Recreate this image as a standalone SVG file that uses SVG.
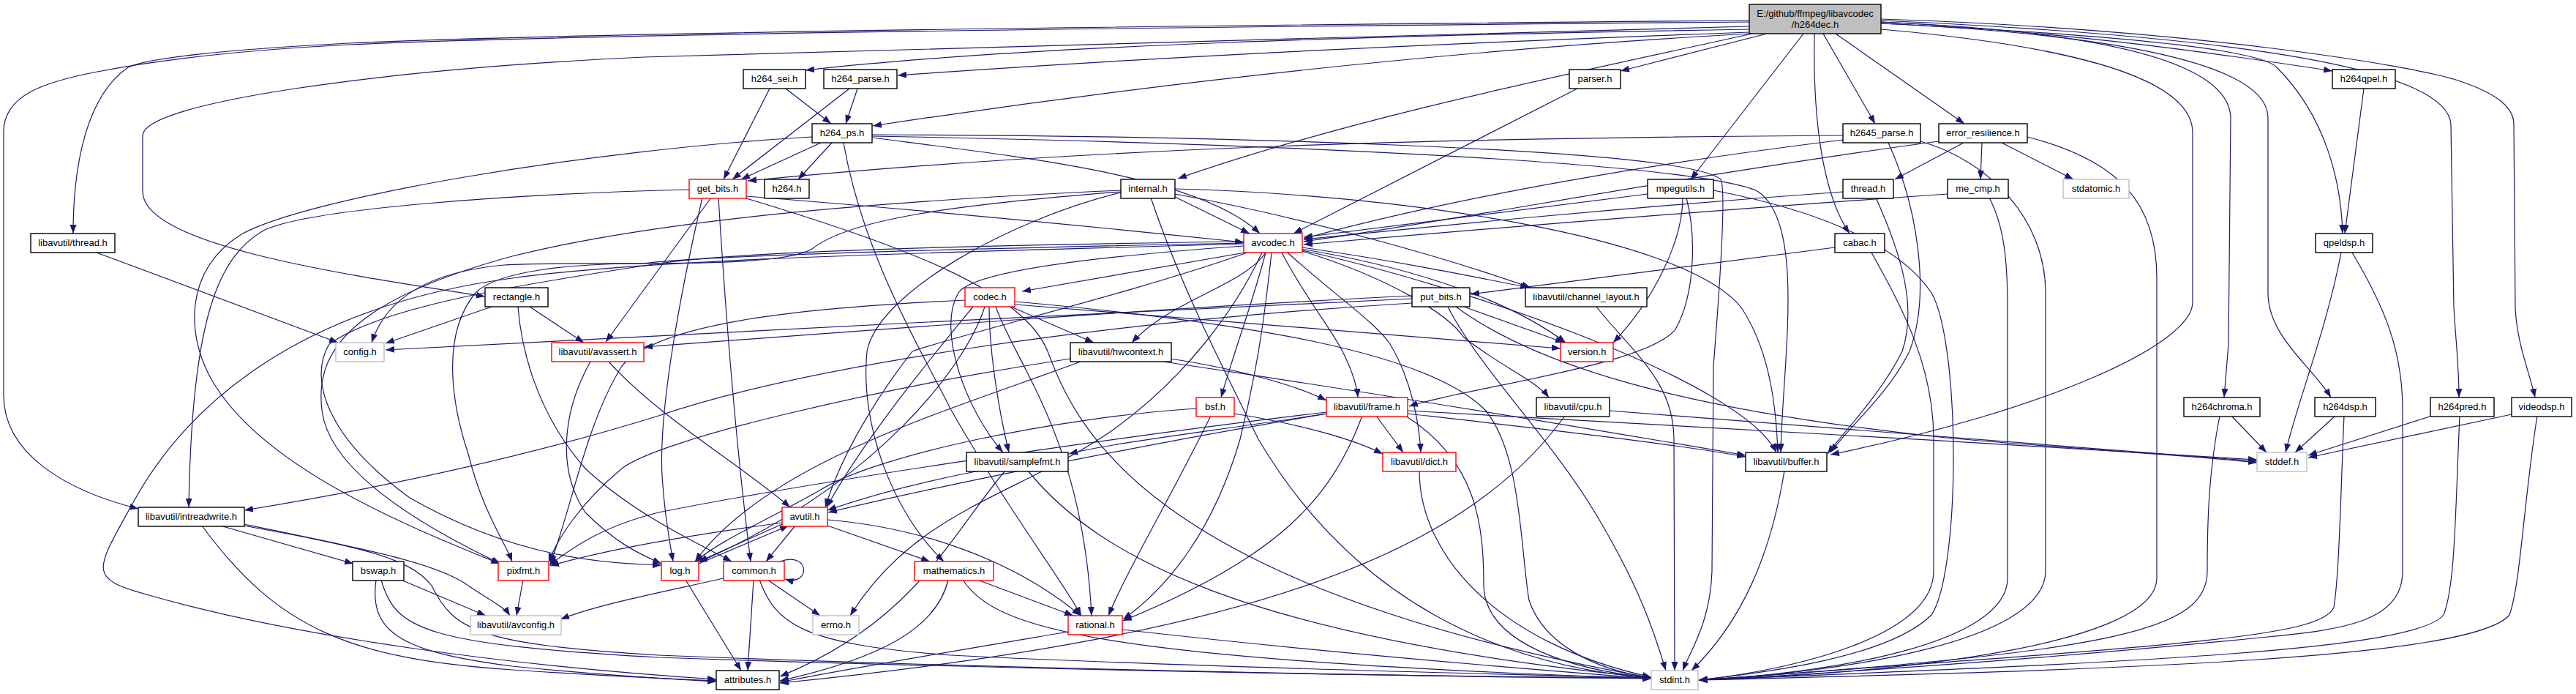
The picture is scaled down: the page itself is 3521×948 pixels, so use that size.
<svg xmlns="http://www.w3.org/2000/svg" width="3521" height="948" viewBox="0 0 3521 948">
<defs>
<marker id="a" viewBox="0 0 12 9" refX="12" refY="4.5" markerWidth="12" markerHeight="9" markerUnits="userSpaceOnUse" orient="auto"><path d="M0,0 L12,4.5 L0,9 z" fill="#191970"/></marker>
<style>
.e{fill:none;stroke:#191970;stroke-width:1.2;marker-end:url(#a)}
.nb{fill:#fff;stroke:#000;stroke-width:1.4}
.nr{fill:#fff;stroke:#ff0000;stroke-width:1.4}
.ng{fill:#fff;stroke:#bfbfbf;stroke-width:1.4}
.nroot{fill:#bfbfbf;stroke:#000;stroke-width:1.4}
text{font-family:"Liberation Sans",Arial,Helvetica,sans-serif;font-size:13px;fill:#000;text-anchor:middle}
</style>
</defs>
<rect width="3521" height="948" fill="#fff"/>
<g id="edges">
<!-- root -->
<path class="e" d="M2391,30 C1700,36 800,46 477,61 C300,70 200,85 133,98 C60,112 5,130 5,180 L5,540 C5,620 90,670 189,695"/>
<path class="e" d="M2391,28 C1700,34 800,44 477,59 C300,68 200,80 175,92 C120,130 100,220 100,319"/>
<path class="e" d="M2391,36 C1900,50 1100,70 880,78 C520,95 197,140 195,185 L195,262 C195,335 470,375 663,405"/>
<path class="e" d="M2391,40 C1900,48 1400,62 1101,96"/>
<path class="e" d="M2391,44 C2000,58 1600,76 1227,103"/>
<path class="e" d="M2391,46 C2100,62 1700,95 1193,172"/>
<path class="e" d="M2395,46 C2150,100 1850,160 1610,244"/>
<path class="e" d="M2415,46 L2215,97"/>
<path class="e" d="M2465,46 L2311,245"/>
<path class="e" d="M2492,46 L2563,169"/>
<path class="e" d="M2480,46 C2478,150 2488,260 2528,319"/>
<path class="e" d="M2509,46 L2685,169"/>
<path class="e" d="M2571,30 C2800,42 3000,68 3188,97"/>
<path class="e" d="M2571,32 C2900,48 3090,68 3112,92 C3180,160 3200,250 3202,319"/>
<path class="e" d="M2571,30 C2800,40 3045,70 3049,160 L3046,470 L3040,543"/>
<path class="e" d="M2571,32 C2850,45 3098,80 3100,160 L3100,400 C3100,460 3160,500 3186,543"/>
<path class="e" d="M2571,28 C2950,45 3345,80 3350,170 L3354,420 C3357,470 3361,500 3361,543"/>
<path class="e" d="M2571,26 C3000,40 3300,90 3360,110 C3420,130 3436,150 3436,170 L3438,420 C3440,470 3458,510 3465,543"/>
<path class="e" d="M2571,40 C2800,60 2995,100 2997,180 L2997,413 C2997,470 2800,560 2502,621"/>
<!-- libavutil/thread.h, rectangle.h -->
<path class="e" d="M132,345 L462,468"/>
<path class="e" d="M672,419 L527,469"/>
<path class="e" d="M724,419 L798,468"/>
<path class="e" d="M708,419 C712,470 730,560 800,640 C870,705 960,745 1000,767"/>
<!-- h264_sei, h264_parse -->
<path class="e" d="M1052,121 L989,245"/>
<path class="e" d="M1074,121 L1136,169"/>
<path class="e" d="M1161,121 L1001,245"/>
<path class="e" d="M1172,121 L1156,169"/>
<!-- h264_ps -->
<path class="e" d="M1122,195 L1013,245"/>
<path class="e" d="M1137,195 L1091,245"/>
<path class="e" d="M1192,188 C1400,215 1640,240 1722,319"/>
<path class="e" d="M1192,184 C1600,185 2300,200 2352,245 C2360,260 2350,400 2342,500 L2340,780 C2338,850 2310,890 2300,916"/>
<path class="e" d="M1192,186 C1700,195 2300,220 2400,260 C2470,300 2436,500 2434,618"/>
<path class="e" d="M1110,187 C800,205 420,270 330,320 C250,370 255,460 290,520 C360,640 560,720 683,770"/>
<path class="e" d="M1153,195 C1180,350 1260,480 1300,560 C1380,700 1450,790 1478,841"/>
<!-- get_bits -->
<path class="e" d="M1020,268 C1300,290 1500,310 1700,331"/>
<path class="e" d="M982,270 C990,400 1005,600 1026,767"/>
<path class="e" d="M942,259 C700,265 420,285 360,315 C300,350 262,430 258,693"/>
<path class="e" d="M972,270 L828,467"/>
<path class="e" d="M960,270 C930,400 900,560 905,650 C908,700 915,740 920,767"/>
<path class="e" d="M1020,271 C1250,340 1400,400 1432,480 C1470,580 1560,800 2257,926"/>
<!-- internal -->
<path class="e" d="M1604,268 L1708,319"/>
<path class="e" d="M1606,265 C1800,300 2000,360 2092,393"/>
<path class="e" d="M1606,258 C1900,265 2300,320 2380,420 C2420,480 2428,560 2430,618"/>
<path class="e" d="M1573,270 C1610,380 1660,480 1720,600 C1850,820 2050,910 2257,926"/>
<path class="e" d="M1532,263 C1380,300 1200,400 1185,480 C1175,580 1220,700 1290,767"/>
<path class="e" d="M1532,262 C1300,280 1160,300 1110,340 C1060,370 800,355 689,362 C600,370 530,400 508,468"/>
<path class="e" d="M1532,260 C1200,275 900,300 700,350 C480,410 430,480 440,560 C450,650 600,730 684,770"/>
<!-- avcodec -->
<path class="e" d="M1725,345 C1690,420 1620,520 1510,595 C1380,680 1250,700 1162,841"/>
<path class="e" d="M1700,336 C1500,350 1330,370 1310,400 C1280,450 1320,560 1371,618"/>
<path class="e" d="M1700,333 C1300,345 900,352 700,380 C400,420 250,560 180,690 C130,780 120,790 200,812 C400,870 700,910 979,928"/>
<path class="e" d="M1705,345 C1550,400 1300,460 1247,480 C1200,540 1150,620 1128,693"/>
<path class="e" d="M1780,342 C2000,390 2380,520 2428,618"/>
<path class="e" d="M1780,343 C1900,380 1980,430 2000,460 C2050,500 2100,520 2117,543"/>
<path class="e" d="M1780,338 C1900,355 2000,375 2090,393"/>
<path class="e" d="M1760,345 C1820,400 1880,440 1900,470 C1930,520 1940,580 1942,618"/>
<path class="e" d="M1752,345 C1780,400 1820,450 1835,480 C1850,510 1855,530 1856,543"/>
<path class="e" d="M1730,345 C1700,390 1600,410 1547,468"/>
<path class="e" d="M1700,330 C1300,335 1000,345 900,360 C700,390 520,420 450,470 C420,520 450,600 560,680 C700,760 820,770 904,772"/>
<path class="e" d="M1700,332 C1300,340 950,350 880,360 C780,360 680,370 650,400 C600,460 620,560 640,620 C660,700 690,740 700,767"/>
<path class="e" d="M1738,345 C1730,420 1720,500 1695,600 C1660,720 1600,800 1535,846"/>
<path class="e" d="M1730,345 C1710,420 1690,470 1669,543"/>
<path class="e" d="M1702,345 L1397,398"/>
<path class="e" d="M1778,340 C1900,360 2050,400 2140,468"/>
<!-- codec -->
<path class="e" d="M1382,419 L1495,468"/>
<path class="e" d="M1330,419 C1280,480 1180,600 1130,693"/>
<path class="e" d="M1346,419 C1320,500 1200,660 955,768"/>
<path class="e" d="M1319,410 C1100,420 900,440 850,500 C800,580 780,700 752,770"/>
<path class="e" d="M1361,419 C1390,500 1480,600 1492,841"/>
<path class="e" d="M1352,419 C1352,480 1365,560 1379,618"/>
<path class="e" d="M1388,412 C1700,440 1950,480 2030,560 C2080,620 2078,750 2090,820 C2110,880 2180,915 2257,926"/>
<path class="e" d="M1388,416 C1700,440 1950,460 2133,476"/>
<!-- hwcontext -->
<path class="e" d="M1590,494 C1900,540 2200,590 2386,622"/>
<path class="e" d="M1600,490 C1700,505 1780,530 1813,547"/>
<path class="e" d="M1477,494 C1300,560 1050,630 950,767"/>
<path class="e" d="M1463,490 C1200,530 900,600 850,640 C790,690 760,740 750,768"/>
<!-- bsf -->
<path class="e" d="M1687,565 C1780,580 1850,600 1890,620"/>
<path class="e" d="M1635,558 C1450,570 1200,620 1120,670 C1050,710 980,740 950,768"/>
<path class="e" d="M1655,568 C1600,680 1540,780 1515,841"/>
<!-- samplefmt -->
<path class="e" d="M1339,643 C1250,660 1180,680 1131,697"/>
<path class="e" d="M1374,643 C1300,730 1250,850 1066,924"/>
<path class="e" d="M1405,643 C1500,760 1700,870 2257,926"/>
<!-- frame -->
<path class="e" d="M1924,561 C2300,580 2700,605 3085,628"/>
<path class="e" d="M1921,568 C2020,630 2028,720 2028,800 C2030,880 2150,915 2257,926"/>
<path class="e" d="M1815,565 C1600,600 1300,660 1132,700"/>
<path class="e" d="M1924,565 C2100,585 2280,605 2386,624"/>
<path class="e" d="M1881,568 L1918,618"/>
<path class="e" d="M1862,568 C1820,680 1750,760 1535,848"/>
<path class="e" d="M1813,565 C1650,590 1520,605 1461,620"/>
<path class="e" d="M1813,563 C1500,600 1100,660 900,700 C820,720 780,750 751,772"/>
<!-- avutil -->
<path class="e" d="M1069,716 L955,767"/>
<path class="e" d="M1087,718 L1047,767"/>
<path class="e" d="M1131,718 L1271,767"/>
<path class="e" d="M1131,710 C1250,720 1380,760 1477,841"/>
<path class="e" d="M1069,714 C950,730 830,750 752,773"/>
<!-- log -->
<path class="e" d="M955,770 L1078,718"/>
<path class="e" d="M937,792 L1013,916"/>
<!-- common -->
<path class="e" d="M1066,767 C1108,752 1108,802 1073,791"/>
<path class="e" d="M1049,792 L1121,841"/>
<path class="e" d="M1030,792 L1022,916"/>
<path class="e" d="M1038,792 C1060,850 1090,880 1300,895 C1600,910 2000,920 2257,926"/>
<path class="e" d="M989,790 C900,810 820,825 766,846"/>
<!-- mathematics -->
<path class="e" d="M1336,792 L1467,841"/>
<path class="e" d="M1296,792 C1280,860 1200,900 1066,930"/>
<path class="e" d="M1316,792 C1360,860 1500,900 2257,927"/>
<!-- rational -->
<path class="e" d="M1460,863 C1300,890 1150,915 1066,932"/>
<path class="e" d="M1534,860 C1800,890 2100,915 2257,927"/>
<!-- avassert -->
<path class="e" d="M807,494 C770,560 760,640 800,700 C840,740 870,755 904,770"/>
<path class="e" d="M832,494 C900,570 1020,640 1080,693"/>
<!-- intreadwrite -->
<path class="e" d="M301,718 L483,770"/>
<path class="e" d="M333,716 C500,750 600,770 640,800 C670,820 690,830 697,841"/>
<path class="e" d="M333,718 C480,745 560,760 590,800 C620,860 650,880 900,895 C1400,915 2000,925 2257,926"/>
<path class="e" d="M276,718 C380,860 480,900 700,915 C850,925 930,928 979,930"/>
<!-- bswap, pixfmt -->
<path class="e" d="M548,792 L664,841"/>
<path class="e" d="M521,792 C540,860 580,880 900,898 C1400,915 2000,925 2257,927"/>
<path class="e" d="M514,792 C505,860 540,890 700,910 C850,925 930,928 979,931"/>
<path class="e" d="M715,792 L706,841"/>
<!-- dict, buffer, cpu, channel_layout -->
<path class="e" d="M1940,643 C1940,760 2050,880 2257,925"/>
<path class="e" d="M2439,643 C2420,760 2380,850 2312,916"/>
<path class="e" d="M2139,568 C2000,760 1700,870 1066,933"/>
<path class="e" d="M2200,561 C2600,590 2900,615 3085,630"/>
<path class="e" d="M2182,419 C2230,480 2288,520 2288,600 L2289,916"/>
<!-- parser -->
<path class="e" d="M2156,121 L1768,319"/>
<!-- h2645_parse -->
<path class="e" d="M2519,185 C2000,188 1500,200 1022,247"/>
<path class="e" d="M2519,191 C2200,230 1950,280 1782,326"/>
<path class="e" d="M2581,195 C2620,280 2640,400 2610,480 C2580,540 2530,580 2502,618"/>
<path class="e" d="M2625,193 C2720,220 2796,300 2796,400 L2796,780 C2796,880 2500,920 2322,929"/>
<!-- error_resilience -->
<path class="e" d="M2650,193 C2300,240 2000,300 1782,330"/>
<path class="e" d="M2684,195 L2590,245"/>
<path class="e" d="M2709,195 L2707,245"/>
<path class="e" d="M2736,195 L2834,245"/>
<path class="e" d="M2771,187 C2900,220 2948,280 2948,380 L2948,790 C2948,880 2600,920 2322,929"/>
<!-- me_cmp -->
<path class="e" d="M2662,265 C2300,290 2000,315 1782,334"/>
<path class="e" d="M2719,270 C2740,310 2744,360 2744,420 L2744,790 C2744,880 2500,920 2322,929"/>
<!-- mpegutils -->
<path class="e" d="M2252,265 L1782,324"/>
<path class="e" d="M2300,270 C2300,330 2260,410 2205,468"/>
<path class="e" d="M2305,270 C2318,320 2318,400 2290,450 C2250,500 2000,530 1926,555"/>
<path class="e" d="M2342,260 C2500,290 2600,340 2640,400 C2680,470 2680,780 2640,840 C2580,900 2400,920 2322,929"/>
<!-- thread -->
<path class="e" d="M2519,262 C2200,285 1950,310 1782,327"/>
<path class="e" d="M2564,270 C2600,350 2620,420 2600,480 C2570,540 2520,590 2498,620"/>
<!-- cabac -->
<path class="e" d="M2508,338 L2010,402"/>
<path class="e" d="M2558,345 C2600,420 2643,500 2643,600 L2643,780 C2643,870 2450,915 2322,929"/>
<!-- put_bits -->
<path class="e" d="M1930,404 C1600,420 1200,450 880,474"/>
<path class="e" d="M1930,408 C1500,430 900,455 527,478"/>
<path class="e" d="M1930,414 C1500,440 1100,500 900,568 C700,630 500,670 334,697"/>
<path class="e" d="M2001,419 L2138,468"/>
<path class="e" d="M1979,419 C2020,500 2120,600 2180,700 C2240,800 2260,860 2277,916"/>
<path class="e" d="M1990,419 C2100,500 2300,560 2660,598 C2850,615 3000,622 3085,632"/>
<!-- qpel / dsp -->
<path class="e" d="M3231,121 L3205,319"/>
<path class="e" d="M3200,345 C3180,450 3140,550 3124,618"/>
<path class="e" d="M3215,345 C3260,420 3284,480 3284,560 L3284,780 C3284,850 3200,860 3100,870 C2800,900 2500,920 2322,929"/>
<path class="e" d="M3050,568 L3098,618"/>
<path class="e" d="M3034,568 C3020,640 3017,700 3017,780 C3017,860 2900,890 2322,929"/>
<path class="e" d="M3192,568 L3137,618"/>
<path class="e" d="M3204,568 C3200,650 3198,780 3190,830 C3170,870 3000,880 2322,929"/>
<path class="e" d="M3324,568 L3155,622"/>
<path class="e" d="M3362,568 C3356,700 3356,800 3340,840 C3300,890 2900,905 2322,929"/>
<path class="e" d="M3433,566 L3155,625"/>
<path class="e" d="M3468,568 C3450,680 3445,800 3430,840 C3380,900 2900,915 2322,929"/>
</g>
<g id="n_root"><rect class="nroot" x="2391" y="6" width="180" height="40"/><text x="2481" y="23">E:/github/ffmpeg/libavcodec</text><text x="2481" y="38">/h264dec.h</text></g>
<g id="n_lthread"><rect class="nb" x="42" y="319" width="115" height="26"/><text x="99.5" y="336">libavutil/thread.h</text></g>
<g id="n_rectangle"><rect class="nb" x="663" y="393" width="86" height="26"/><text x="706" y="410">rectangle.h</text></g>
<g id="n_config"><rect class="ng" x="459" y="468" width="66" height="26"/><text x="492" y="485">config.h</text></g>
<g id="n_avassert"><rect class="nr" x="754" y="468" width="126" height="26"/><text x="817" y="485">libavutil/avassert.h</text></g>
<g id="n_sei"><rect class="nb" x="1016" y="95" width="85" height="26"/><text x="1058.5" y="112">h264_sei.h</text></g>
<g id="n_parse"><rect class="nb" x="1126" y="95" width="100" height="26"/><text x="1176" y="112">h264_parse.h</text></g>
<g id="n_ps"><rect class="nb" x="1110" y="169" width="82" height="26"/><text x="1151" y="186">h264_ps.h</text></g>
<g id="n_getbits"><rect class="nr" x="942" y="245" width="78" height="26"/><text x="981" y="262">get_bits.h</text></g>
<g id="n_h264"><rect class="nb" x="1045" y="245" width="61" height="26"/><text x="1075.5" y="262">h264.h</text></g>
<g id="n_internal"><rect class="nb" x="1532" y="245" width="74" height="26"/><text x="1569" y="262">internal.h</text></g>
<g id="n_avcodec"><rect class="nr" x="1700" y="319" width="80" height="26"/><text x="1740" y="336">avcodec.h</text></g>
<g id="n_codec"><rect class="nr" x="1319" y="393" width="68" height="26"/><text x="1353" y="410">codec.h</text></g>
<g id="n_hwcontext"><rect class="nb" x="1463" y="468" width="138" height="26"/><text x="1532" y="485">libavutil/hwcontext.h</text></g>
<g id="n_parser"><rect class="nb" x="2145" y="95" width="70" height="26"/><text x="2180" y="112">parser.h</text></g>
<g id="n_h2645"><rect class="nb" x="2519" y="169" width="106" height="26"/><text x="2572" y="186">h2645_parse.h</text></g>
<g id="n_er"><rect class="nb" x="2650" y="169" width="121" height="26"/><text x="2710.5" y="186">error_resilience.h</text></g>
<g id="n_mpegutils"><rect class="nb" x="2252" y="245" width="90" height="26"/><text x="2297" y="262">mpegutils.h</text></g>
<g id="n_thread"><rect class="nb" x="2519" y="245" width="69" height="26"/><text x="2553.5" y="262">thread.h</text></g>
<g id="n_cabac"><rect class="nb" x="2508" y="319" width="68" height="26"/><text x="2542" y="336">cabac.h</text></g>
<g id="n_putbits"><rect class="nb" x="1930" y="393" width="79" height="26"/><text x="1969.5" y="410">put_bits.h</text></g>
<g id="n_chlayout"><rect class="nb" x="2085" y="393" width="166" height="26"/><text x="2168" y="410">libavutil/channel_layout.h</text></g>
<g id="n_version"><rect class="nr" x="2133" y="468" width="72" height="26"/><text x="2169" y="485">version.h</text></g>
<g id="n_mecmp"><rect class="nb" x="2662" y="245" width="83" height="26"/><text x="2703.5" y="262">me_cmp.h</text></g>
<g id="n_stdatomic"><rect class="ng" x="2820" y="245" width="90" height="26"/><text x="2865" y="262">stdatomic.h</text></g>
<g id="n_h264qpel"><rect class="nb" x="3188" y="95" width="86" height="26"/><text x="3231" y="112">h264qpel.h</text></g>
<g id="n_qpeldsp"><rect class="nb" x="3165" y="319" width="78" height="26"/><text x="3204" y="336">qpeldsp.h</text></g>
<g id="n_intreadwrite"><rect class="nb" x="189" y="693" width="145" height="26"/><text x="261.5" y="710">libavutil/intreadwrite.h</text></g>
<g id="n_bswap"><rect class="nb" x="482" y="767" width="70" height="26"/><text x="517" y="784">bswap.h</text></g>
<g id="n_pixfmt"><rect class="nr" x="681" y="767" width="69" height="26"/><text x="715.5" y="784">pixfmt.h</text></g>
<g id="n_avconfig"><rect class="ng" x="643" y="841" width="124" height="26"/><text x="705" y="858">libavutil/avconfig.h</text></g>
<g id="n_bsf"><rect class="nr" x="1635" y="543" width="52" height="26"/><text x="1661" y="560">bsf.h</text></g>
<g id="n_samplefmt"><rect class="nb" x="1321" y="618" width="139" height="26"/><text x="1390.5" y="635">libavutil/samplefmt.h</text></g>
<g id="n_avutil"><rect class="nr" x="1069" y="693" width="62" height="26"/><text x="1100" y="710">avutil.h</text></g>
<g id="n_log"><rect class="nr" x="904" y="767" width="51" height="26"/><text x="929.5" y="784">log.h</text></g>
<g id="n_common"><rect class="nr" x="989" y="767" width="83" height="26"/><text x="1030.5" y="784">common.h</text></g>
<g id="n_mathematics"><rect class="nr" x="1250" y="767" width="108" height="26"/><text x="1304" y="784">mathematics.h</text></g>
<g id="n_errno"><rect class="ng" x="1111" y="841" width="63" height="26"/><text x="1142.5" y="858">errno.h</text></g>
<g id="n_rational"><rect class="nr" x="1460" y="841" width="74" height="26"/><text x="1497" y="858">rational.h</text></g>
<g id="n_attributes"><rect class="nb" x="979" y="916" width="86" height="26"/><text x="1022" y="933">attributes.h</text></g>
<g id="n_frame"><rect class="nr" x="1813" y="543" width="111" height="26"/><text x="1868.5" y="560">libavutil/frame.h</text></g>
<g id="n_cpu"><rect class="nb" x="2100" y="543" width="100" height="26"/><text x="2150" y="560">libavutil/cpu.h</text></g>
<g id="n_dict"><rect class="nr" x="1890" y="618" width="100" height="26"/><text x="1940" y="635">libavutil/dict.h</text></g>
<g id="n_buffer"><rect class="nb" x="2386" y="618" width="111" height="26"/><text x="2441.5" y="635">libavutil/buffer.h</text></g>
<g id="n_stdint"><rect class="ng" x="2257" y="916" width="64" height="26"/><text x="2289" y="933">stdint.h</text></g>
<g id="n_h264chroma"><rect class="nb" x="2985" y="543" width="104" height="26"/><text x="3037" y="560">h264chroma.h</text></g>
<g id="n_h264dsp"><rect class="nb" x="3164" y="543" width="83" height="26"/><text x="3205.5" y="560">h264dsp.h</text></g>
<g id="n_h264pred"><rect class="nb" x="3322" y="543" width="87" height="26"/><text x="3365.5" y="560">h264pred.h</text></g>
<g id="n_videodsp"><rect class="nb" x="3433" y="543" width="82" height="26"/><text x="3474" y="560">videodsp.h</text></g>
<g id="n_stddef"><rect class="ng" x="3085" y="618" width="68" height="26"/><text x="3119" y="635">stddef.h</text></g>
</svg>
